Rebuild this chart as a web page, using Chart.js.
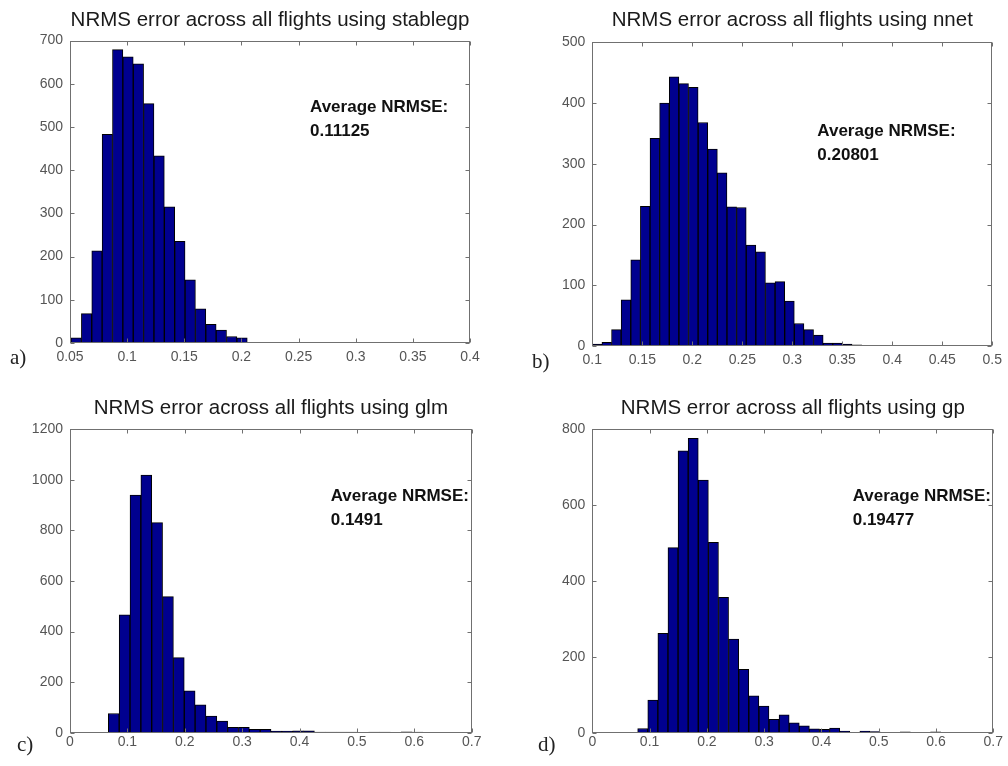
<!DOCTYPE html>
<html>
<head>
<meta charset="utf-8">
<script src="https://cdn.jsdelivr.net/npm/chart.js@4.4.1/dist/chart.umd.min.js"></script>
<style>
  html, body { margin: 0; padding: 0; background: #fff; }
  canvas { position: absolute; }
</style>
</head>
<body>
<canvas id="histStablegp" width="504" height="383" style="left:0;top:0"></canvas>
<canvas id="histNnet"     width="504" height="383" style="left:504px;top:0"></canvas>
<canvas id="histGlm"      width="504" height="383" style="left:0;top:383px"></canvas>
<canvas id="histGp"       width="504" height="383" style="left:504px;top:383px"></canvas>
<script>
// ── DATA ──────────────────────────────────────────────────────
const methods  = ['stablegp', 'nnet', 'glm', 'gp'];
const averages = ['0.11125', '0.20801', '0.1491', '0.19477'];
const tags     = ['a)', 'b)', 'c)', 'd)'];

// lower edge of the first bin and bin width of each histogram
const binStart = [0.0509, 0.1, 0.0668, 0.0792];
const binWidth = [0.00907, 0.00962, 0.0189, 0.01763];

// flights per bin
const countsStablegp = [12, 68, 213, 483, 679, 662, 646, 554, 433, 315, 235, 146, 79, 43, 30, 15, 12,
                        1, 1, 1, 0, 0, 1, 0, 0, 0, 0, 0, 0, 1];
const countsNnet     = [3, 6, 27, 76, 142, 230, 342, 400, 443, 432, 426, 368, 324, 285, 229, 228, 166,
                        155, 104, 106, 74, 37, 27, 18, 5, 5, 3, 2, 1, 1];
const countsGlm      = [76, 466, 940, 1019, 831, 538, 297, 166, 110, 66, 46, 21, 21, 13, 13, 6, 6,
                        7, 7, 2, 2, 2, 2, 0, 2, 2, 0, 3, 2, 1];
const countsGp       = [11, 86, 262, 488, 743, 776, 666, 502, 357, 247, 167, 97, 70, 35, 47, 26, 18,
                        10, 9, 12, 4, 1, 4, 3, 1, 0, 2, 1, 0, 2];
const counts = [countsStablegp, countsNnet, countsGlm, countsGp];

// axis ranges / tick steps
const xMin  = [0.05, 0.1, 0, 0];
const xMax  = [0.4, 0.5, 0.7, 0.7];
const xStep = [0.05, 0.05, 0.1, 0.1];
const yMax  = [700, 500, 1200, 800];
const yStep = [100, 100, 200, 200];

// ── LAYOUT (canvas px) ────────────────────────────────────────
const W = 504, H = 383;
const layouts = [
  { left: 70,   right: 470,   top: 40.5, bottom: 343,   titleTop: 8,  xPad: 6, tag: [10, 358], note: [310,   107] },
  { left: 88.3, right: 489.3, top: 42.3, bottom: 346,   titleTop: 8,  xPad: 6, tag: [28, 362], note: [313.3, 131.7] },
  { left: 70,   right: 471.7, top: 46.3, bottom: 349.7, titleTop: 13, xPad: 1, tag: [17, 362], note: [330.7, 113.7] },
  { left: 88.3, right: 489.3, top: 46.3, bottom: 349.7, titleTop: 13, xPad: 1, tag: [34, 362], note: [348.7, 113.7] }
];
const canvasIds = ['histStablegp', 'histNnet', 'histGlm', 'histGp'];

const SANS  = "'Liberation Sans', Arial, sans-serif";
const SERIF = "'Liberation Serif', 'DejaVu Serif', serif";
const BAR_FILL = '#00008f';
const AXIS_GREY = '#707070';

// box around the axes with inward tick marks, panel tag and the average note
const matlabBox = {
  id: 'matlabBox',
  afterDatasetsDraw(chart) {
    const { ctx, chartArea: a, scales } = chart;
    const tl = 4;
    ctx.save();
    ctx.strokeStyle = AXIS_GREY;
    ctx.lineWidth = 1;
    const L = Math.round(a.left) + 0.5, R = Math.round(a.right) - 0.5;
    const T = Math.round(a.top) + 0.5,  B = Math.round(a.bottom) - 0.5;
    ctx.strokeRect(L, T, R - L, B - T);
    ctx.beginPath();
    scales.x.ticks.forEach(t => {
      const px = Math.round(scales.x.getPixelForValue(t.value)) + 0.5;
      ctx.moveTo(px, B); ctx.lineTo(px, B - tl);
      ctx.moveTo(px, T); ctx.lineTo(px, T + tl);
    });
    scales.y.ticks.forEach(t => {
      const py = Math.round(scales.y.getPixelForValue(t.value)) + 0.5;
      ctx.moveTo(L, py); ctx.lineTo(L + tl, py);
      ctx.moveTo(R, py); ctx.lineTo(R - tl, py);
    });
    ctx.stroke();
    ctx.restore();
  },
  afterDraw(chart, args, opts) {
    const { ctx } = chart;
    ctx.save();
    ctx.textBaseline = 'middle';
    ctx.textAlign = 'left';
    ctx.fillStyle = '#111';
    ctx.font = 'bold 17px ' + SANS;
    ctx.fillText('Average NRMSE:', opts.note[0], opts.note[1]);
    ctx.fillText(opts.average, opts.note[0], opts.note[1] + 24);
    ctx.fillStyle = '#222';
    ctx.font = '21px ' + SERIF;
    ctx.fillText(opts.tag, opts.tagPos[0], opts.tagPos[1]);
    ctx.restore();
  }
};

const xLabel = v => String(+v.toFixed(2));
const yLabel = v => String(v);

methods.forEach((m, i) => {
  const lay = layouts[i];
  const points = counts[i].map((c, k) => ({ x: binStart[i] + binWidth[i] * (k + 0.5), y: c }));

  new Chart(document.getElementById(canvasIds[i]), {
    type: 'bar',
    data: {
      datasets: [{
        data: points,
        backgroundColor: BAR_FILL,
        borderColor: '#000',
        borderWidth: 1,
        barPercentage: 1,
        categoryPercentage: 1
      }]
    },
    plugins: [matlabBox],
    options: {
      responsive: false,
      animation: false,
      layout: { padding: { left: 0, right: W - lay.right, top: 0, bottom: 0 } },
      plugins: {
        legend: { display: false },
        tooltip: { enabled: false },
        title: {
          display: true,
          text: 'NRMS error across all flights using ' + m,
          fullSize: false,
          color: '#1a1a1a',
          font: { family: SANS, size: 20.5, weight: 'normal', lineHeight: 1.2 },
          padding: { top: lay.titleTop, bottom: lay.top - lay.titleTop - 24.6 }
        },
        matlabBox: { note: lay.note, average: averages[i], tag: tags[i], tagPos: lay.tag }
      },
      scales: {
        x: {
          type: 'linear',
          min: xMin[i], max: xMax[i],
          offset: false,
          grid: { display: false, drawTicks: false },
          border: { display: false },
          ticks: {
            stepSize: xStep[i], autoSkip: false, maxRotation: 0,
            padding: lay.xPad, color: '#555',
            font: { family: SANS, size: 14 },
            callback: xLabel
          },
          afterFit: s => { s.height = H - lay.bottom; }
        },
        y: {
          min: 0, max: yMax[i],
          grid: { display: false, drawTicks: false },
          border: { display: false },
          ticks: {
            stepSize: yStep[i], padding: 7, color: '#555',
            font: { family: SANS, size: 14 },
            callback: yLabel
          },
          afterFit: s => { s.width = lay.left; }
        }
      }
    }
  });
});
</script>
</body>
</html>
